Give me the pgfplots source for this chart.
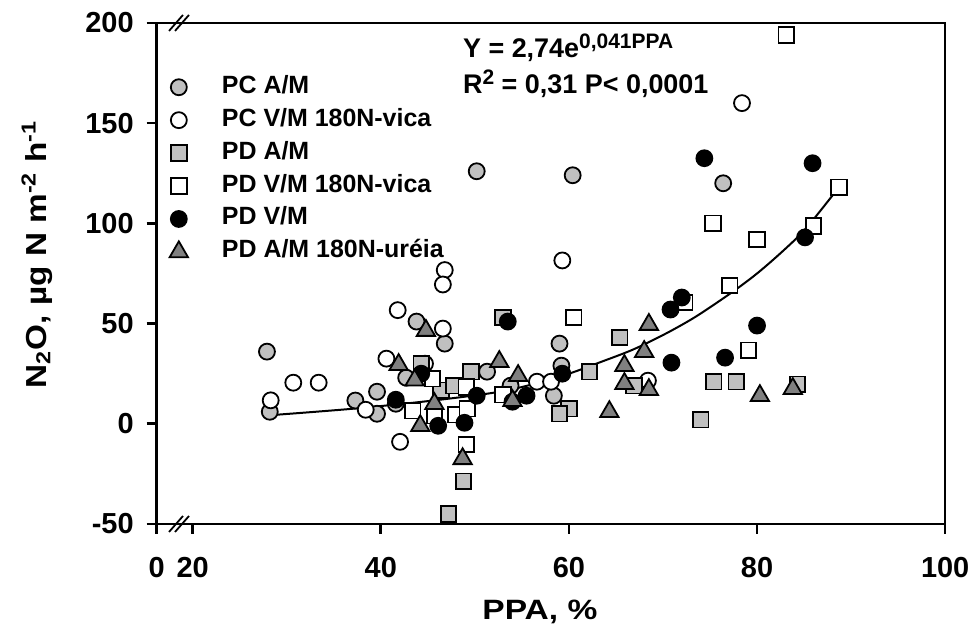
\documentclass[border=0pt]{standalone}
\usepackage{fontspec}
\setmainfont{Liberation Sans}
\usepackage{pgfplots}
\pgfplotsset{compat=1.18}
\definecolor{lgray}{HTML}{C0C0C0}
\definecolor{dgray}{HTML}{808080}
\newcommand{\supr}[1]{\raisebox{0.62ex}{\fontsize{10.5}{12}\selectfont #1}}

\begin{document}
\begin{tikzpicture}[font=\fontsize{12.5}{15}\selectfont\bfseries]
\begin{axis}[
    scale only axis,
    width=395pt, height=251pt,
    xmin=16.18, xmax=100,
    ymin=-50, ymax=200,
    clip=false,
    axis line style={line width=1.3pt},
    xtick={16.18,20,40,60,80,100},
    xticklabels={0,20,40,60,80,100},
    ytick={-50,0,50,100,150,200},
    yticklabels={-50,0,50,100,150,200},
    tick align=outside,
    xtick pos=bottom, ytick pos=left,
    major tick length=5pt,
    tick style={line width=1.3pt, black},
    tick label style={font=\fontsize{14.5}{16}\selectfont\bfseries},
    xticklabel style={yshift=-8pt},
    yticklabel style={xshift=-3pt},
    xlabel={\scalebox{1.2}[1]{PPA, \%}},
    xlabel style={font=\fontsize{14}{16}\selectfont\bfseries,
        at={(axis description cs:0.486,0)}, anchor=north, yshift=-34.5pt},
    ylabel={\scalebox{1.15}[1]{N\textsubscript{2}O, µg N m\textsuperscript{-2} h\textsuperscript{-1}}},
    ylabel style={font=\fontsize{14.5}{16}\selectfont\bfseries,
        at={(axis description cs:-0.152,0.538)}, anchor=center},
    legend style={draw=none, fill=none, at={(axis description cs:0,1)},
        anchor=north west, xshift=3.3pt, yshift=-22pt,
        nodes={text height=9pt, text depth=3pt, inner sep=2pt},
        row sep=0.5pt},
    legend cell align=left,
]
% fitted curve
\addplot[black, line width=1pt, smooth, forget plot] coordinates {
    (28.9,4.5) (37,7.5) (45,11.3) (52,15.5) (56,19.5) (60,25) (63.2,30.5)
    (66.8,37) (70.3,45) (73.5,53.5) (77.3,65.5) (80,75) (82.7,86)
    (85.2,97.5) (88.7,118)
};
% PC A/M
\addplot[only marks, mark=*, mark size=4pt,
    mark options={fill=lgray, draw=black, line width=0.9pt}] coordinates {
    (27.9,36) (28.2,6) (37.3,11.6) (39.6,5) (39.6,16) (43.8,51) (46.8,40)
    (42.7,23) (51.3,26) (41.6,10) (53.8,19) (59,40) (59.2,29) (58.4,14)
    (50.2,126) (60.4,124) (76.4,120)
};
% PC V/M 180N-vica
\addplot[only marks, mark=*, mark size=4pt,
    mark options={fill=white, draw=black, line width=0.9pt}] coordinates {
    (28.3,11.7) (30.7,20.5) (33.4,20.5) (38.4,7) (41.8,56.7) (46.8,76.7)
    (46.6,69.5) (46.6,47.5) (40.6,32.5) (42.05,-9) (44.7,30) (56.6,21)
    (58.1,21) (68.4,21.5) (59.3,81.5) (78.4,160)
};
% PD A/M
\addplot[only marks, mark=square*, mark size=3.9pt,
    mark options={fill=lgray, draw=black, line width=0.9pt}] coordinates {
    (53,53) (65.4,43) (44.3,30) (49.6,26) (46.4,16.7) (47.8,19) (62.2,26)
    (60,7.5) (59,5) (48.8,-28.7) (47.2,-45) (66.9,19) (75.4,21) (77.8,21)
    (84.3,19.7) (74,2)
};
% PD V/M 180N-vica
\addplot[only marks, mark=square*, mark size=3.9pt,
    mark options={fill=white, draw=black, line width=0.9pt}] coordinates {
    (83.1,194) (88.7,118) (86,98.7) (75.3,100) (80,92) (77.1,69) (72.3,60.5)
    (79.1,36.7) (60.5,53) (45.5,22.5) (49.1,18.3) (53,14.5) (43.4,6.5)
    (45.7,4) (48,4.5) (49.2,7.5) (49.1,-10.3)
};
% PD V/M
\addplot[only marks, mark=*, mark size=4pt,
    mark options={fill=black, draw=black, line width=0.9pt}] coordinates {
    (74.4,132.5) (85.9,130) (85.1,93) (72,63) (70.8,57) (80,49) (76.6,33)
    (70.9,30.5) (53.5,51) (44.3,25) (41.6,12) (50.2,14) (46.1,-1) (48.9,0.5)
    (55.5,14) (59.3,25) (54,11)
};
% PD A/M 180N-ureia
\addplot[only marks, mark=triangle*, mark size=5.3pt,
    mark options={fill=dgray, draw=black, line width=0.9pt}] coordinates {
    (44.8,46.5) (41.9,29.5) (43.6,21.7) (45.7,10) (44.2,-1) (48.7,-17.5)
    (52.6,31) (54.6,24) (54,11.5) (64.3,6) (65.9,29) (65.9,20) (68.5,49.5)
    (68,36) (68.5,17) (80.3,14) (83.8,17.5)
};
\legend{\hspace*{15pt}PC A/M, \hspace*{15pt}PC V/M 180N-vica, \hspace*{15pt}PD A/M,
    \hspace*{15pt}PD V/M 180N-vica, \hspace*{15pt}PD V/M, \hspace*{15pt}PD A/M 180N-uréia}

% axis break marks
\draw[line width=0.9pt] ([xshift=-1.5pt]axis cs:18.55,-50) ++(-3.5pt,-4pt) -- ++(7pt,8pt);
\draw[line width=0.9pt] ([xshift=1.5pt]axis cs:18.55,-50) ++(-3.5pt,-4pt) -- ++(7pt,8pt);
\draw[line width=0.9pt] ([xshift=-1.5pt]axis cs:18.55,200) ++(-3.5pt,-4pt) -- ++(7pt,8pt);
\draw[line width=0.9pt] ([xshift=1.5pt]axis cs:18.55,200) ++(-3.5pt,-4pt) -- ++(7pt,8pt);
% regression text
\node[anchor=base west, font=\fontsize{13.5}{15}\selectfont\bfseries]
    at (axis cs:48.0,183) {Y = 2,74e\supr{0,041PPA}};
\node[anchor=base west, font=\fontsize{13.5}{15}\selectfont\bfseries]
    at (axis cs:48.0,165) {R\supr{2} = 0,31 P< 0,0001};
\end{axis}
% page frame with the reference's margins
\path ([xshift=-78.5pt,yshift=11.5pt]current axis.north west)
    rectangle ([xshift=14.5pt,yshift=-57.5pt]current axis.south east);
\end{tikzpicture}
\end{document}
